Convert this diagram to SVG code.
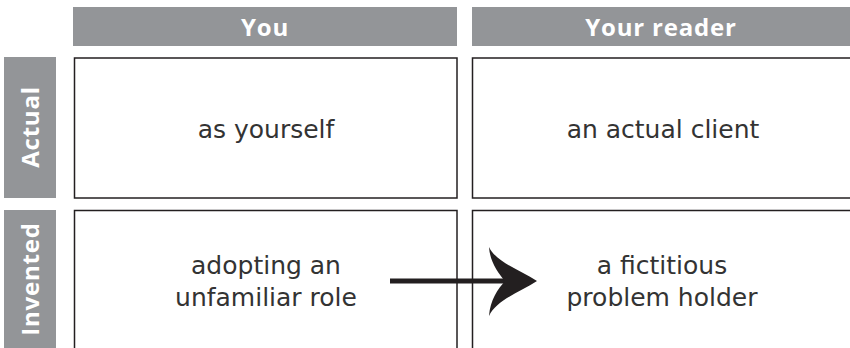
<svg xmlns="http://www.w3.org/2000/svg" width="850" height="348" viewBox="0 0 850 348">
  <style>
    .bar { fill: #939598; }
    .cell { fill: #ffffff; stroke: #231f20; stroke-width: 1.5; }
    .head { font-family: "Open Sans", "DejaVu Sans", sans-serif; font-weight: 700; font-size: 24px; fill: #ffffff; text-anchor: middle; letter-spacing: 0.8px; }
    .body { font-family: "DejaVu Sans", "Open Sans", sans-serif; font-size: 25px; fill: #333333; text-anchor: middle; }
  </style>
  <rect width="850" height="348" fill="#ffffff"/>

  <!-- column headers -->
  <g id="col-you">
    <rect class="bar" x="73" y="7" width="384" height="39"/>
    <text class="head" x="265" y="36">You</text>
  </g>
  <g id="col-reader">
    <rect class="bar" x="472" y="7" width="378" height="39"/>
    <text class="head" x="661" y="36">Your reader</text>
  </g>

  <!-- row headers -->
  <g id="row-actual">
    <rect class="bar" x="4" y="57" width="52" height="141"/>
    <text class="head" transform="translate(39 127) rotate(-90)">Actual</text>
  </g>
  <g id="row-invented">
    <rect class="bar" x="4" y="210" width="52" height="140"/>
    <text class="head" transform="translate(39 279) rotate(-90)">Invented</text>
  </g>

  <!-- cells -->
  <g id="cell-you-actual">
    <rect class="cell" x="74.5" y="58" width="382.5" height="140"/>
    <text class="body" x="266" y="138">as yourself</text>
  </g>
  <g id="cell-reader-actual">
    <rect class="cell" x="472.5" y="58" width="380" height="140"/>
    <text class="body" x="663" y="138">an actual client</text>
  </g>
  <g id="cell-you-invented">
    <rect class="cell" x="74.5" y="210.5" width="382.5" height="142"/>
    <text class="body" x="266" y="274">adopting an</text>
    <text class="body" x="266" y="306">unfamiliar role</text>
  </g>
  <g id="cell-reader-invented">
    <rect class="cell" x="472.5" y="210.5" width="380" height="142"/>
    <text class="body" x="662" y="274">a fictitious</text>
    <text class="body" x="662" y="306">problem holder</text>
  </g>

  <!-- connector -->
  <g id="connectors">
    <line x1="390" y1="281" x2="508" y2="281" stroke="#231f20" stroke-width="5"/>
    <path d="M537 281 C520 270 496 262 489 247 C490 262 498 273 505 281 C498 289 490 300 489 316 C496 300 520 292 537 281 Z" fill="#231f20"/>
  </g>
</svg>
